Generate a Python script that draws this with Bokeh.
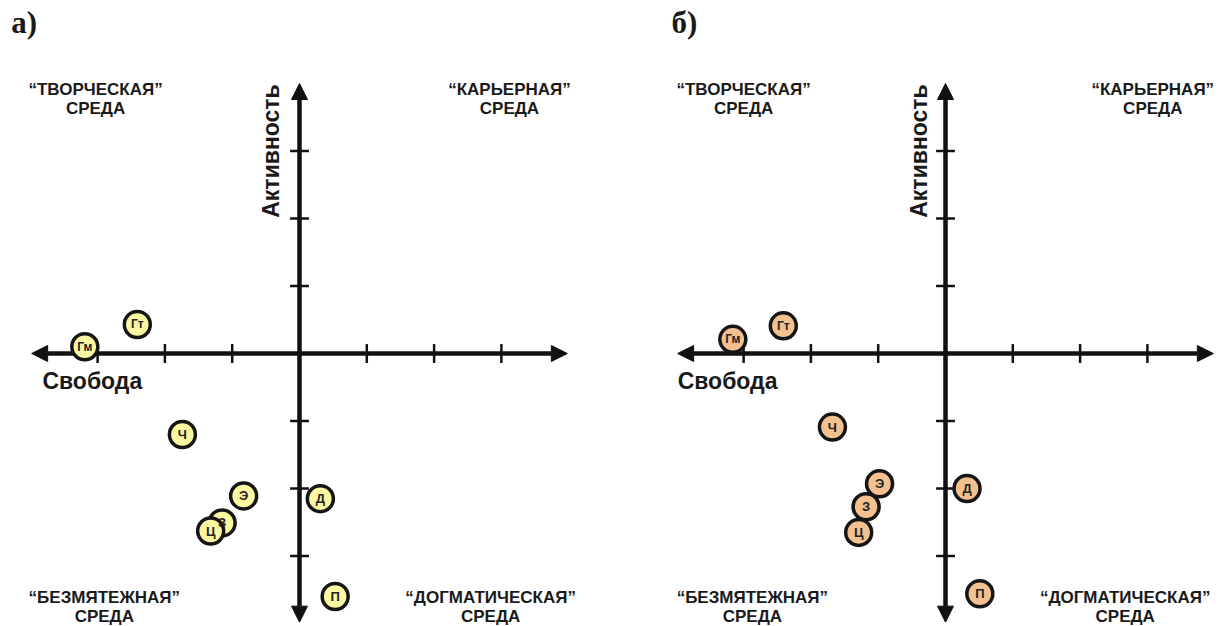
from bokeh.plotting import figure
from bokeh.layouts import row
from bokeh.models import Arrow, NormalHead, Label, Range1d, ColumnDataSource
from bokeh.embed import file_html
from bokeh.resources import INLINE

# ---- data ----
codes = ["Гм", "Гт", "Ч", "Э", "З", "Ц", "Д", "П"]
# panel a (freedom, activity)
a_x = [-3.19, -2.41, -1.74, -0.83, -1.15, -1.32, 0.31, 0.53]
a_y = [0.10, 0.43, -1.20, -2.11, -2.51, -2.63, -2.15, -3.60]
# panel b
b_x = [-3.16, -2.41, -1.68, -0.98, -1.18, -1.29, 0.32, 0.51]
b_y = [0.21, 0.41, -1.09, -1.93, -2.27, -2.65, -2.00, -3.56]

ticks = [-3, -2, -1, 1, 2, 3]
x_label = "Свобода"
y_label = "Активность"
quad_top_left = ["“ТВОРЧЕСКАЯ”", "СРЕДА"]
quad_top_right = ["“КАРЬЕРНАЯ”", "СРЕДА"]
quad_bottom_left = ["“БЕЗМЯТЕЖНАЯ”", "СРЕДА"]
quad_bottom_right = ["“ДОГМАТИЧЕСКАЯ”", "СРЕДА"]

FONT = "Liberation Sans"
W, H = 609, 626
UX, UY = 67.3, 67.5


def panel(xs, ys, fill, title, cx_px, svob_x, title_x, act_x, quad_x):
    cy_px = 353
    p = figure(width=W, height=H, output_backend="svg", toolbar_location=None,
               min_border=0, x_range=Range1d(-cx_px / UX, (W - cx_px) / UX),
               y_range=Range1d(-(H - cy_px) / UY, cy_px / UY))
    p.axis.visible = False
    p.grid.visible = False
    p.outline_line_color = None
    p.background_fill_color = "white"
    p.border_fill_color = "white"

    def head():
        return NormalHead(size=16, fill_color="#111111", line_color="#111111", line_width=1)
    p.add_layout(Arrow(start=head(), end=head(), x_start=-3.98, y_start=0, x_end=3.98, y_end=0,
                       line_width=4.5, line_color="#111111", level="underlay"))
    p.add_layout(Arrow(start=head(), end=head(), x_start=0, y_start=-3.98, x_end=0, y_end=4.0,
                       line_width=4.5, line_color="#111111", level="underlay"))
    tl = 0.14
    p.segment(x0=ticks, y0=[-tl] * len(ticks), x1=ticks, y1=[tl] * len(ticks),
              line_width=2.5, line_color="#111111")
    p.segment(x0=[-tl] * len(ticks), y0=ticks, x1=[tl] * len(ticks), y1=ticks,
              line_width=2.5, line_color="#111111")

    sizes = ["12px" if len(c) > 1 else "13px" for c in codes]
    src = ColumnDataSource(dict(x=xs, y=ys, t=codes, s=sizes))
    p.scatter("x", "y", source=src, size=26, fill_color=fill, line_color="#151515", line_width=3.5)
    p.text("x", "y", text="t", source=src, text_align="center", text_baseline="middle",
           text_font_size="s", text_font_style="bold", text_color="#222222",
           text_font={"value": FONT})

    def lbl(x, y, txt, size="17px", align="center", angle=0, font=FONT):
        p.add_layout(Label(x=x, y=y, text=txt, text_align=align, text_baseline="middle",
                           text_font=font, text_font_style="bold", text_font_size=size,
                           text_color="#1a1a1a", angle=angle))

    tlx, trx, blx, brx = quad_x
    for (qx, qy, lines) in [(tlx, 3.91, quad_top_left), (trx, 3.91, quad_top_right),
                            (blx, -3.62, quad_bottom_left), (brx, -3.62, quad_bottom_right)]:
        lbl(qx, qy, lines[0])
        lbl(qx, qy - 0.28, lines[1])

    lbl(svob_x, -0.40, x_label, size="23px", align="left")
    lbl(act_x, 3.0, y_label, size="23px", angle=1.5708)
    lbl(title_x, 4.90, title, size="31px", font="Liberation Serif")
    return p


pa = panel(a_x, a_y, "#FCF8A2", "а)", 299, -3.82, -4.09, -0.43, (-3.03, 3.12, -2.90, 2.84))
pb = panel(b_x, b_y, "#F3C190", "б)", 336, -3.98, -3.88, -0.40, (-3.0, 3.08, -2.87, 2.67))

layout = row(pa, pb)
open("out.html", "w").write(file_html(layout, INLINE))
